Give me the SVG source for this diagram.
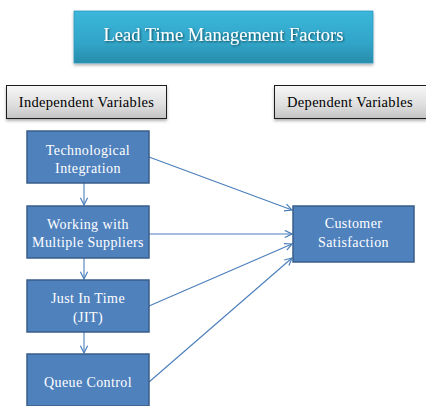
<svg xmlns="http://www.w3.org/2000/svg" width="426" height="406" viewBox="0 0 426 406">
  <defs>
    <linearGradient id="titleFill" x1="0" y1="0" x2="0" y2="1">
      <stop offset="0" stop-color="#3bb6da"/>
      <stop offset="0.6" stop-color="#31a6c9"/>
      <stop offset="1" stop-color="#2a8cab"/>
    </linearGradient>
    <linearGradient id="headFill" x1="0" y1="0" x2="0" y2="1">
      <stop offset="0" stop-color="#f7f7f7"/>
      <stop offset="0.6" stop-color="#dedede"/>
      <stop offset="1" stop-color="#c4c4c4"/>
    </linearGradient>
    <filter id="boxShadow" x="-10%" y="-20%" width="120%" height="150%">
      <feDropShadow dx="0" dy="2" stdDeviation="1.5" flood-color="#000" flood-opacity="0.3"/>
    </filter>
    <filter id="textShadow" x="-10%" y="-30%" width="120%" height="160%">
      <feDropShadow dx="1" dy="1" stdDeviation="0.8" flood-color="#000" flood-opacity="0.6"/>
    </filter>
    <marker id="arrow" viewBox="0 0 10 10" refX="9" refY="5" markerWidth="9" markerHeight="9" markerUnits="userSpaceOnUse" orient="auto">
      <path d="M1,1 L9,5 L1,9" fill="none" stroke="#4a7ebb" stroke-width="1.3"/>
    </marker>
    <style>
      text { font-family: "Liberation Serif", "DejaVu Serif", "Noto Serif", serif; }
      .node rect { fill: #4f81bd; stroke: #385d8a; stroke-width: 1.5; }
      .node text { fill: #ffffff; font-size: 14px; letter-spacing: 0.4px; text-anchor: middle; }
      .head rect { fill: url(#headFill); stroke: #1a1a1a; stroke-width: 1; }
      .head text { fill: #000; font-size: 14.5px; letter-spacing: 0.3px; text-anchor: middle; }
      .title-text { fill: #ffffff; font-size: 18.5px; text-anchor: middle; }
      .edges line { stroke: #4a7ebb; stroke-width: 1.1; fill: none; marker-end: url(#arrow); }
    </style>
  </defs>

  <rect width="426" height="406" fill="#ffffff"/>

  <!-- title banner -->
  <g id="title">
    <rect x="74" y="11" width="299" height="52" fill="url(#titleFill)" stroke="#2d9ac0" stroke-width="0.8" filter="url(#boxShadow)"/>
    <text class="title-text" x="223.5" y="41" filter="url(#textShadow)">Lead Time Management Factors</text>
  </g>

  <!-- column headers -->
  <g id="independent-header" class="head">
    <rect x="6.5" y="85.5" width="160" height="33" filter="url(#boxShadow)"/>
    <text x="86.5" y="107">Independent Variables</text>
  </g>
  <g id="dependent-header" class="head">
    <rect x="274.5" y="85.5" width="152" height="33" filter="url(#boxShadow)"/>
    <text x="350" y="107">Dependent Variables</text>
  </g>

  <!-- connectors -->
  <g id="connectors" class="edges">
    <line x1="84" y1="183" x2="84" y2="205"/>
    <line x1="84" y1="258" x2="84" y2="279"/>
    <line x1="84" y1="332" x2="84" y2="353"/>
    <line x1="149" y1="157" x2="292" y2="210"/>
    <line x1="149" y1="234" x2="292" y2="234"/>
    <line x1="149" y1="306" x2="292" y2="244"/>
    <line x1="149" y1="382" x2="292" y2="258"/>
  </g>

  <!-- independent variables -->
  <g id="technological-integration" class="node">
    <rect x="27" y="131" width="122" height="52"/>
    <text x="88" y="155">Technological</text>
    <text x="88" y="173">Integration</text>
  </g>
  <g id="multiple-suppliers" class="node">
    <rect x="27" y="206" width="122" height="52"/>
    <text x="88" y="229">Working with</text>
    <text x="88" y="247">Multiple Suppliers</text>
  </g>
  <g id="just-in-time" class="node">
    <rect x="27" y="280" width="122" height="52"/>
    <text x="88" y="303">Just In Time</text>
    <text x="88" y="322">(JIT)</text>
  </g>
  <g id="queue-control" class="node">
    <rect x="27" y="354" width="122" height="52"/>
    <text x="88" y="387">Queue Control</text>
  </g>

  <!-- dependent variable -->
  <g id="customer-satisfaction" class="node">
    <rect x="293" y="206" width="121" height="56"/>
    <text x="353.5" y="228">Customer</text>
    <text x="353.5" y="247">Satisfaction</text>
  </g>
</svg>
